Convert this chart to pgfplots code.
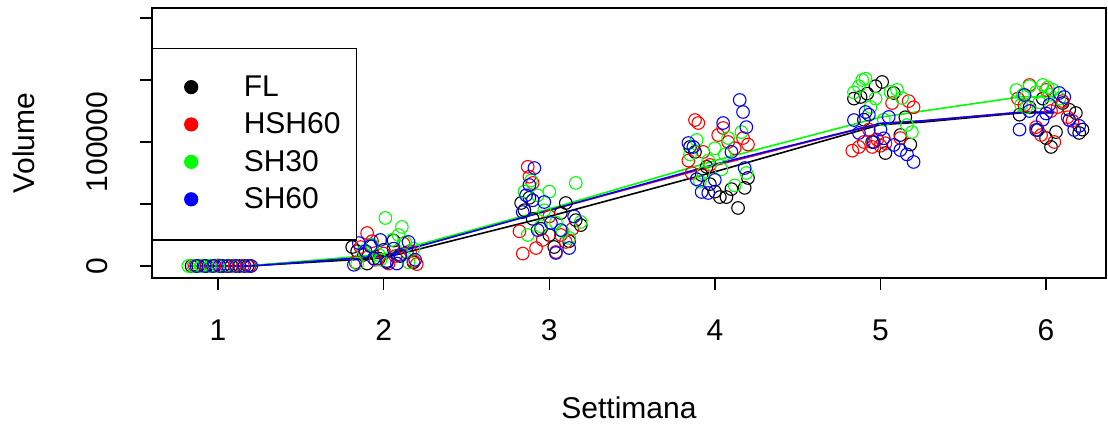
\documentclass[border=0pt]{standalone}
\usepackage{fontspec}
\setmainfont{Liberation Sans}
\usepackage{pgfplots}
\pgfplotsset{compat=1.18}

\definecolor{rgreen}{RGB}{0,255,0}
\definecolor{rred}{RGB}{255,0,0}
\definecolor{rblue}{RGB}{0,0,255}

\begin{document}
\fontsize{30}{36}\selectfont
\begin{tikzpicture}
\begin{axis}[
  name=ax,
  scale only axis,
  width=954pt, height=270pt,
  xmin=0.601, xmax=6.362,
  ymin=-9677, ymax=208065,
  axis line style={line width=1.3pt},
  every tick/.style={line width=1.3pt, black},
  tick align=outside,
  major tick length=12pt,
  xtick pos=bottom, ytick pos=left,
  xtick={1,2,3,4,5,6},
  xticklabels={1,2,3,4,5,6},
  ytick={0,50000,100000,150000,200000},
  yticklabels={0,,100000,,},
  scaled y ticks=false,
  xticklabel style={anchor=center, inner sep=0pt},
  xticklabel shift=40.5pt,
  yticklabel style={rotate=90, anchor=center, inner sep=0pt},
  yticklabel shift=42.5pt,
  xlabel={Settimana},
  ylabel={Volume},
  xlabel style={at={(axis description cs:0.5,-0.4815)}, anchor=center, inner sep=0pt},
  ylabel style={at={(axis description cs:-0.1342,0.5)}, anchor=center, inner sep=0pt},
  legend cell align=left,
  legend style={at={(axis description cs:0,0.852)}, anchor=north west,
    draw=black, line width=1.2pt, inner xsep=16pt, inner ysep=27pt,
    row sep=12pt, nodes={inner sep=0pt}, font=\fontsize{30}{36}\selectfont},
  legend image code/.code={\path (0pt,0pt) (74pt,0pt); \fill (22pt,1pt) circle (6.5pt);},
  scatter/.style={only marks, mark=o, mark size=6.3pt, line width=1.1pt, forget plot},
  meanline/.style={line width=1.6pt, forget plot, mark=none},
]

% FL
\addplot[scatter, black] table {
0.84 0
0.88 200
0.93 0
0.98 300
1.03 0
1.08 100
1.13 0
1.18 200
1.81 15300
1.84 12000
1.88 9000
1.93 16000
1.97 6000
2.02 4000
2.06 20500
2.10 8000
2.14 11000
2.18 3000
1.90 2000
2.00 13000
2.83 50800
2.85 45000
2.90 38000
2.95 30000
3.00 25000
3.03 15300
3.07 42700
3.10 50800
3.12 20000
3.16 37000
3.19 33000
2.88 55000
3.85 96000
3.88 92000
3.92 73400
3.97 66000
4.00 60000
4.03 55600
4.07 55600
4.10 62000
4.14 46800
4.18 63000
4.20 71000
3.95 80000
4.84 135000
4.88 136300
4.92 139000
4.97 145000
5.01 148400
5.03 91100
4.95 100000
5.08 139500
5.12 105600
5.15 120000
5.18 98000
4.90 118000
5.84 122000
5.90 128000
5.95 109700
6.00 103200
6.03 96000
6.06 108000
6.10 131400
6.14 126000
6.18 123400
6.20 107300
6.22 110000
5.98 135000
};

% HSH60
\addplot[scatter, rred] table {
0.86 0
0.90 300
0.96 0
1.00 500
1.05 0
1.10 300
1.15 200
1.19 0
1.83 3000
1.86 15300
1.90 26600
1.95 5000
2.00 10000
2.03 2000
2.07 8000
2.12 18000
2.16 12000
2.20 1500
2.18 4000
1.93 20000
2.84 10000
2.87 80000
2.90 67000
2.92 14500
2.96 21000
3.00 40000
3.04 11300
3.10 19400
3.14 30000
2.88 72000
3.07 25000
2.82 28000
3.84 85000
3.88 117700
3.90 115300
3.93 92000
3.97 81500
4.02 105600
4.05 111300
4.08 100000
4.12 95000
4.17 103200
4.20 98000
3.86 75000
4.83 93000
4.87 96000
4.90 100000
4.95 96000
4.98 102000
5.03 99000
5.07 131400
5.12 103200
5.17 133000
5.20 128000
4.93 110000
5.00 97000
5.83 135000
5.87 129800
5.90 146000
5.94 112000
5.97 105600
6.00 142000
6.03 125000
6.07 128200
6.10 133000
6.13 120000
6.16 117000
6.05 100000
};

% SH30
\addplot[scatter, rgreen] table {
0.82 0
0.85 0
0.90 0
0.95 200
1.00 0
1.06 300
1.11 0
1.16 0
1.84 2000
1.88 12000
1.93 17000
1.97 9000
2.01 38700
2.05 21000
2.09 25000
2.11 31500
2.15 3000
2.18 14000
1.98 5000
2.13 19000
2.85 60000
2.89 69000
2.93 57000
2.97 45000
3.00 60000
3.04 35000
3.08 28000
3.12 22600
3.16 67000
3.19 35500
2.87 25000
2.95 32000
3.85 90000
3.89 101600
3.93 75000
3.96 85000
4.00 95000
4.04 78000
4.08 103200
4.12 65000
4.16 108000
4.19 75000
3.91 68000
4.06 90000
4.84 140000
4.87 145000
4.89 150000
4.91 151000
4.94 128200
4.97 135000
5.02 118000
5.06 140300
5.10 142000
5.13 135500
5.16 113700
5.19 108000
5.82 141900
5.86 138000
5.90 145000
5.94 140300
5.98 146000
6.01 144000
6.04 142000
6.08 135000
5.88 128000
5.96 132000
6.02 138000
5.85 130000
};

% SH60
\addplot[scatter, rblue] table {
0.87 0
0.92 0
0.97 0
1.01 0
1.06 0
1.11 0
1.16 0
1.20 0
1.82 1000
1.85 18500
1.89 12000
1.94 6000
1.98 21000
2.02 3000
2.06 14000
2.10 9000
2.15 19400
2.19 5000
1.92 16000
2.08 2000
2.84 43500
2.86 57000
2.88 65300
2.90 53000
2.93 29000
2.97 51600
3.01 34700
3.04 10500
3.07 29000
3.12 14500
3.15 40000
2.91 79000
3.84 99200
3.87 96000
3.89 70000
3.92 59700
3.96 58900
4.00 69400
4.05 115300
4.10 92000
4.15 133900
4.17 124200
4.19 112000
4.18 79000
4.84 117700
4.87 107300
4.91 124200
4.93 122000
4.96 100000
5.00 110000
5.05 120200
5.08 97600
5.12 93500
5.16 90000
5.20 83900
5.02 103000
5.84 110000
5.87 137900
5.90 125000
5.94 109700
5.98 118000
6.02 130000
6.08 139500
6.11 136300
6.14 117700
6.17 109700
6.20 113000
6.00 123000
};

% weekly means
\addplot[meanline, black] coordinates {(0.83,0) (1.18,0) (2,6500) (3,40000) (4,76000) (5,114000) (5.25,116000) (5.85,123500) (6.05,123500)};
\addplot[meanline, rred] coordinates {(0.85,0) (1.18,0) (2,8500) (3,45000) (4,81000) (5,115000) (5.25,117000) (5.85,124000) (6.05,124000)};
\addplot[meanline, rgreen] coordinates {(0.82,0) (1.18,0) (2,9500) (3,46000) (4,85000) (5,120000) (5.85,136500) (6.05,136500)};
\addplot[meanline, rblue] coordinates {(0.87,0) (1.2,0) (2,8000) (3,45000) (4,82000) (5,115000) (5.25,117000) (5.85,124000) (6.05,124000)};

\addlegendimage{black}
\addlegendentry{FL}
\addlegendimage{rred}
\addlegendentry{HSH60}
\addlegendimage{rgreen}
\addlegendentry{SH30}
\addlegendimage{rblue}
\addlegendentry{SH60}
\end{axis}
% page frame: axis box at 152..1106 pt across, 8..278 pt down
\pgfresetboundingbox
\path ([xshift=-152pt, yshift=-145pt]ax.south west) rectangle ([xshift=2pt, yshift=8pt]ax.north east);
\end{tikzpicture}
\end{document}
